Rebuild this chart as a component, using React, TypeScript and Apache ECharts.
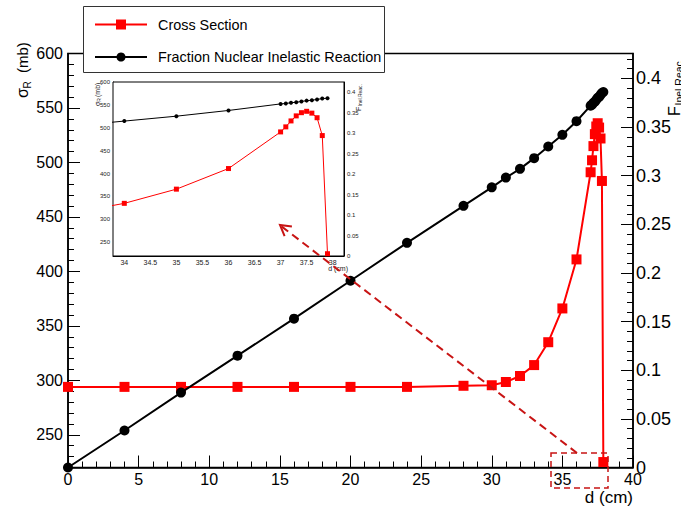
import { useEffect, useRef } from "react";
import * as echarts from "echarts";

// ---------- data ----------
const depthCm = [0, 4, 8, 12, 16, 20, 24, 28, 30, 31, 32, 33, 34, 35, 36, 37, 37.1, 37.2, 37.3, 37.4, 37.5, 37.6, 37.7, 37.8, 37.9];
const crossSectionMb = [294, 294, 294, 294, 294, 294, 294, 295, 295.5, 298.5, 304, 314, 335, 366, 411, 491, 502, 515, 526, 533, 536, 532, 522, 483, 225];
const inelasticFraction = [0, 0.038, 0.077, 0.115, 0.153, 0.192, 0.231, 0.269, 0.288, 0.298, 0.307, 0.318, 0.33, 0.342, 0.356, 0.372, 0.373, 0.375, 0.376, 0.378, 0.38, 0.381, 0.383, 0.385, 0.386];

const mainDepthTicks = [0, 5, 10, 15, 20, 25, 30, 35, 40];
const sigmaTicks = [250, 300, 350, 400, 450, 500, 550, 600];
const fractionTicks = [0, 0.05, 0.1, 0.15, 0.2, 0.25, 0.3, 0.35, 0.4];
const insetDepthTicks = [34, 34.5, 35, 35.5, 36, 36.5, 37, 37.5, 38];

const FONT = "'Liberation Sans', Arial, Helvetica, sans-serif";
const ARROW = "#c81414";

function minorTicks(lo: number, hi: number, step: number, majors: number[]) {
  const out: number[] = [];
  const n = Math.round((hi - lo) / step);
  for (let i = 0; i <= n; i++) {
    const v = +(lo + i * step).toFixed(6);
    if (!majors.some((m) => Math.abs(m - v) < 1e-9)) out.push(v);
  }
  return out;
}

function axis(opt: {
  gridIndex: number;
  position: string;
  min: number;
  max: number;
  ticks: number[];
  tickLen: number;
  labels?: boolean;
  fontSize?: number;
  margin?: number;
  line?: boolean;
  lineWidth?: number;
  color?: string;
}) {
  return {
    type: "value",
    gridIndex: opt.gridIndex,
    position: opt.position,
    min: opt.min,
    max: opt.max,
    axisLine: { show: opt.line !== false, onZero: false, lineStyle: { color: "#000", width: opt.lineWidth ?? 1.5 } },
    axisTick: { show: true, inside: true, length: opt.tickLen, customValues: opt.ticks, lineStyle: { color: "#000", width: 1 } },
    axisLabel: opt.labels
      ? { show: true, customValues: opt.ticks, fontSize: opt.fontSize, color: opt.color ?? "#000", fontFamily: FONT, margin: opt.margin ?? 5 }
      : { show: false },
    splitLine: { show: false },
    minorTick: { show: false },
  };
}

export default function App() {
  const ref = useRef<HTMLDivElement>(null);

  useEffect(() => {
    if (!ref.current) return;
    const chart = echarts.init(ref.current, null, { renderer: "svg" });

    const pairsCS = depthCm.map((d, i) => [d, crossSectionMb[i]]);
    const pairsF = depthCm.map((d, i) => [d, inelasticFraction[i]]);

    const SMIN = 220, SMAX = 600, FMAX = 0.4256;
    const IXMIN = 33.783, IXMAX = 38.217;

    const option: any = {
      animation: false,
      backgroundColor: "#fff",
      grid: [
        { left: 68, right: 48, top: 53.5, bottom: 39.5, show: true, borderColor: "#000", borderWidth: 1.5, backgroundColor: "transparent", containLabel: false, outerBoundsMode: "none" },
        { left: 113, top: 82, width: 231, height: 174, show: true, borderColor: "#000", borderWidth: 1, backgroundColor: "#fff", containLabel: false, outerBoundsMode: "none", z: 5 },
      ],
      xAxis: [
        axis({ gridIndex: 0, position: "bottom", min: 0, max: 40, ticks: mainDepthTicks, tickLen: 12, labels: true, fontSize: 16, margin: 4 }),
        axis({ gridIndex: 0, position: "bottom", min: 0, max: 40, ticks: minorTicks(1, 39, 1, mainDepthTicks), tickLen: 6, line: false }),
        axis({ gridIndex: 1, position: "bottom", min: IXMIN, max: IXMAX, ticks: insetDepthTicks, tickLen: 4, labels: true, fontSize: 7, margin: 3, lineWidth: 1, color: "#222" }),
        axis({ gridIndex: 1, position: "bottom", min: IXMIN, max: IXMAX, ticks: minorTicks(33.8, 38.2, 0.1, insetDepthTicks), tickLen: 2, line: false }),
      ],
      yAxis: [
        axis({ gridIndex: 0, position: "left", min: SMIN, max: SMAX, ticks: sigmaTicks, tickLen: 12, labels: true, fontSize: 16, margin: 5 }),
        axis({ gridIndex: 0, position: "left", min: SMIN, max: SMAX, ticks: minorTicks(230, 590, 10, sigmaTicks), tickLen: 6, line: false }),
        axis({ gridIndex: 0, position: "right", min: 0, max: FMAX, ticks: fractionTicks, tickLen: 12, labels: true, fontSize: 18, margin: 3 }),
        axis({ gridIndex: 0, position: "right", min: 0, max: FMAX, ticks: minorTicks(0.01, 0.42, 0.01, fractionTicks), tickLen: 6, line: false }),
        axis({ gridIndex: 1, position: "left", min: SMIN, max: SMAX, ticks: sigmaTicks, tickLen: 4, labels: true, fontSize: 6, margin: 3, lineWidth: 1, color: "#222" }),
        axis({ gridIndex: 1, position: "left", min: SMIN, max: SMAX, ticks: minorTicks(230, 590, 10, sigmaTicks), tickLen: 2, line: false }),
        axis({ gridIndex: 1, position: "right", min: 0, max: FMAX, ticks: fractionTicks, tickLen: 4, labels: true, fontSize: 6, margin: 3, lineWidth: 1, color: "#222" }),
        axis({ gridIndex: 1, position: "right", min: 0, max: FMAX, ticks: minorTicks(0.01, 0.42, 0.01, fractionTicks), tickLen: 2, line: false }),
      ],
      series: [
        {
          name: "Cross Section", type: "line", xAxisIndex: 0, yAxisIndex: 0, data: pairsCS,
          symbol: "rect", symbolSize: 10, lineStyle: { color: "#ff0000", width: 2 }, itemStyle: { color: "#ff0000" }, z: 3,
        },
        {
          name: "Fraction Nuclear Inelastic Reaction", type: "line", xAxisIndex: 0, yAxisIndex: 2, data: pairsF,
          symbol: "circle", symbolSize: 10, lineStyle: { color: "#000", width: 2 }, itemStyle: { color: "#000" }, z: 4,
        },
        {
          type: "line", xAxisIndex: 2, yAxisIndex: 4, data: pairsCS, clip: true,
          symbol: "rect", symbolSize: 5, lineStyle: { color: "#ff0000", width: 1 }, itemStyle: { color: "#ff0000" }, z: 6,
        },
        {
          type: "line", xAxisIndex: 2, yAxisIndex: 6, data: pairsF, clip: true,
          symbol: "circle", symbolSize: 4, lineStyle: { color: "#000", width: 1 }, itemStyle: { color: "#000" }, z: 6,
        },
      ],
      graphic: [
        // legend box
        { type: "rect", z: 100, shape: { x: 83.5, y: 6.5, width: 301, height: 66 }, style: { fill: "#fff", stroke: "#333", lineWidth: 1 } },
        { type: "line", z: 101, shape: { x1: 95, y1: 24.5, x2: 147, y2: 24.5 }, style: { stroke: "#ff0000", lineWidth: 2 } },
        { type: "rect", z: 102, shape: { x: 116, y: 19.5, width: 10, height: 10 }, style: { fill: "#ff0000" } },
        { type: "text", z: 102, x: 158, y: 24.5, style: { text: "Cross Section", fontSize: 14.4, fontFamily: FONT, fill: "#000", verticalAlign: "middle" } },
        { type: "line", z: 101, shape: { x1: 95, y1: 57, x2: 147, y2: 57 }, style: { stroke: "#000", lineWidth: 2 } },
        { type: "circle", z: 102, shape: { cx: 121, cy: 57, r: 4.5 }, style: { fill: "#000" } },
        { type: "text", z: 102, x: 158, y: 57, style: { text: "Fraction Nuclear Inelastic Reaction", fontSize: 14.4, fontFamily: FONT, fill: "#000", verticalAlign: "middle" } },
        // main axis titles
        {
          type: "group", x: 22, y: 98, rotation: Math.PI / 2, z: 50,
          children: [
            { type: "text", x: 0, y: 0, style: { text: "σ", fontSize: 16, fontFamily: FONT, fill: "#000", verticalAlign: "middle" } },
            { type: "text", x: 9.5, y: 5, style: { text: "R", fontSize: 10, fontFamily: FONT, fill: "#000", verticalAlign: "middle" } },
            { type: "text", x: 25, y: 0, style: { text: "(mb)", fontSize: 15, fontFamily: FONT, fill: "#000", verticalAlign: "middle" } },
          ],
        },
        {
          type: "group", x: 674.5, y: 116, rotation: Math.PI / 2, z: 50,
          children: [
            { type: "text", x: 0, y: 0, style: { text: "F", fontSize: 16, fontFamily: FONT, fill: "#000", verticalAlign: "middle" } },
            { type: "text", x: 10.5, y: 4.5, style: { text: "Inel.Reac.", fontSize: 10.5, fontFamily: FONT, fill: "#000", verticalAlign: "middle" } },
          ],
        },
        { type: "text", z: 50, x: 633, y: 497, style: { text: "d (cm)", fontSize: 17, fontFamily: FONT, fill: "#000", align: "right", verticalAlign: "middle" } },
        // inset axis titles
        {
          type: "group", x: 97, y: 106, rotation: Math.PI / 2, z: 50,
          children: [
            { type: "text", x: 0, y: 0, style: { text: "σ", fontSize: 7, fontFamily: FONT, fill: "#222", verticalAlign: "middle" } },
            { type: "text", x: 4.2, y: 2, style: { text: "R", fontSize: 5, fontFamily: FONT, fill: "#222", verticalAlign: "middle" } },
            { type: "text", x: 9, y: 0, style: { text: "(mb)", fontSize: 7, fontFamily: FONT, fill: "#222", verticalAlign: "middle" } },
          ],
        },
        {
          type: "group", x: 358, y: 111, rotation: Math.PI / 2, z: 50,
          children: [
            { type: "text", x: 0, y: 0, style: { text: "F", fontSize: 7, fontFamily: FONT, fill: "#222", verticalAlign: "middle" } },
            { type: "text", x: 4.5, y: 2, style: { text: "Inel.Reac.", fontSize: 5, fontFamily: FONT, fill: "#222", verticalAlign: "middle" } },
          ],
        },
        { type: "text", z: 50, x: 348, y: 268, style: { text: "d (cm)", fontSize: 7, fontFamily: FONT, fill: "#222", align: "right", verticalAlign: "middle" } },
        // zoom indicator: dashed box and arrow
        { type: "rect", z: 60, shape: { x: 551, y: 453, width: 57, height: 35 }, style: { fill: "none", stroke: ARROW, lineWidth: 1.5, lineDash: [6, 4] } },
        { type: "line", z: 60, shape: { x1: 577, y1: 453, x2: 281, y2: 226 }, style: { stroke: ARROW, lineWidth: 2, lineDash: [8, 5] } },
        { type: "polyline", z: 60, shape: { points: [[284.6, 236.1], [280, 225], [291.9, 226.5]] }, style: { stroke: ARROW, lineWidth: 2, fill: "none" } },
      ],
    };

    chart.setOption(option);
    return () => chart.dispose();
  }, []);

  return <div ref={ref} style={{ position: "fixed", left: 0, top: 0, width: 681, height: 507 }} />;
}
